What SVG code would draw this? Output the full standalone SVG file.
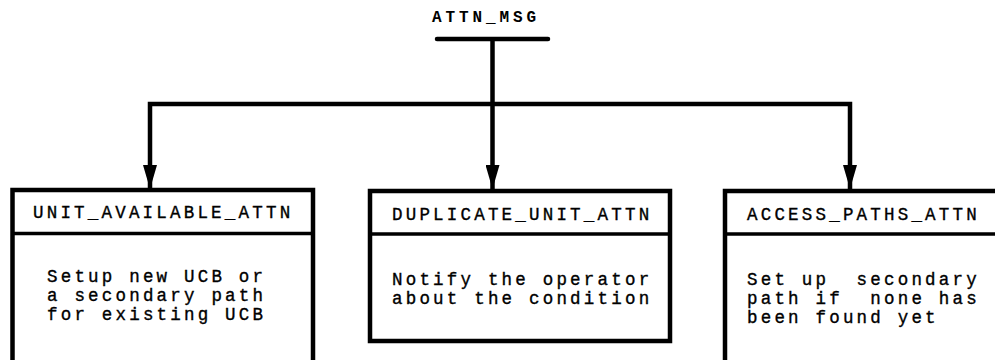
<svg xmlns="http://www.w3.org/2000/svg" width="995" height="360" viewBox="0 0 995 360">
<style>
.bg{fill:#fff}
.box{fill:#fff;stroke:#000;stroke-width:4.5}
.div{stroke:#000;stroke-width:3.5}
.wire{fill:none;stroke:#000;stroke-width:4.5;stroke-linejoin:miter}
.t{font-family:"Liberation Mono","Courier New",monospace;font-size:17.5px;letter-spacing:3.2px;fill:#000;stroke:#000;stroke-width:0.35px}
.title{font-family:"Liberation Mono","Courier New",monospace;font-size:16px;font-weight:bold;letter-spacing:3.9px;fill:#000}
</style>
<defs>
<marker id="arr" markerUnits="userSpaceOnUse" viewBox="0 0 24 14" refX="24" refY="7" markerWidth="24" markerHeight="14" orient="auto-start-reverse">
<path d="M0,0 L24,7 L0,14 z" fill="#000"/>
</marker>
</defs>
<rect class="bg" width="995" height="360"/>
<g id="attn_msg">
<text class="title" x="432" y="22">ATTN_MSG</text>
<line x1="437" y1="39" x2="548" y2="39" stroke="#000" stroke-width="4.5" stroke-linecap="round"/>
</g>
<g id="connectors">
<path class="wire" d="M492.5,39 V189" marker-end="url(#arr)"/>
<path class="wire" d="M150,189 V104 H850 V189" marker-start="url(#arr)" marker-end="url(#arr)"/>
</g>
<g id="unit_available_attn">
<rect class="box" x="12.5" y="190" width="300.5" height="190"/>
<line class="div" x1="12.5" y1="233.5" x2="313" y2="233.5"/>
<text class="t" x="33" y="218">UNIT_AVAILABLE_ATTN</text>
<text class="t" x="47" y="282">Setup new UCB or</text>
<text class="t" x="47" y="301">a secondary path</text>
<text class="t" x="47" y="320">for existing UCB</text>
</g>
<g id="duplicate_unit_attn">
<rect class="box" x="370" y="191" width="300" height="150"/>
<line class="div" x1="370" y1="234" x2="670" y2="234"/>
<text class="t" x="392" y="220">DUPLICATE_UNIT_ATTN</text>
<text class="t" x="392" y="285">Notify the operator</text>
<text class="t" x="392" y="304">about the condition</text>
</g>
<g id="access_paths_attn">
<rect class="box" x="725" y="191" width="300" height="190"/>
<line class="div" x1="725" y1="234" x2="1000" y2="234"/>
<text class="t" x="747" y="220">ACCESS_PATHS_ATTN</text>
<text class="t" x="747" y="285" xml:space="preserve">Set up  secondary</text>
<text class="t" x="747" y="304" xml:space="preserve">path if  none has</text>
<text class="t" x="747" y="323">been found yet</text>
</g>
</svg>
